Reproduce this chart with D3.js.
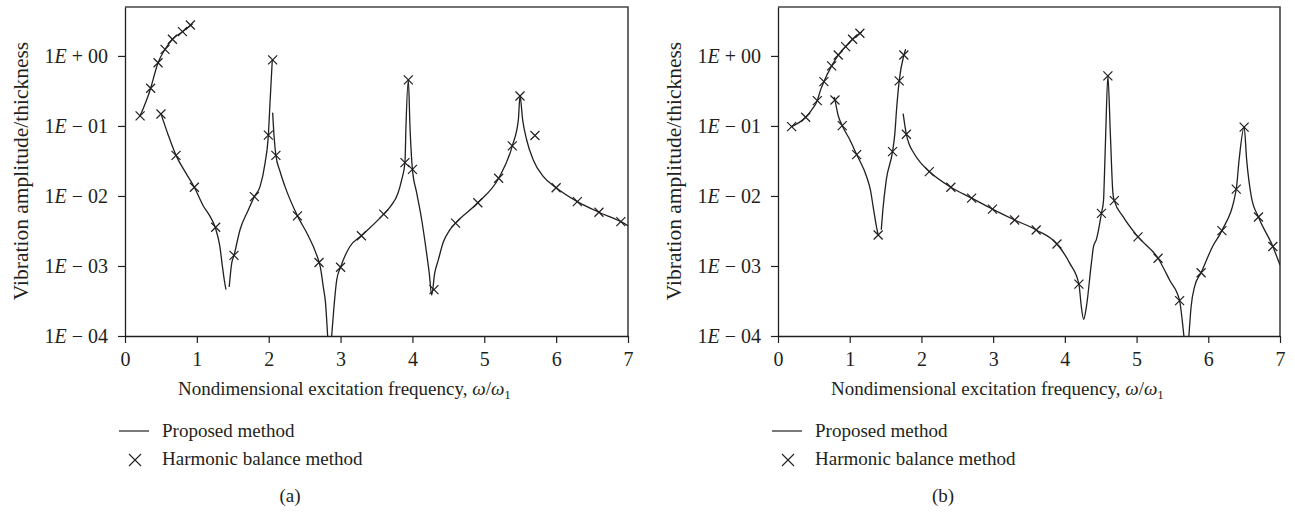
<!DOCTYPE html>
<html>
<head>
<meta charset="utf-8">
<script src="https://cdn.jsdelivr.net/npm/d3@7"></script>
<style>
body { margin: 0; background: #fff; }
text { font-family: "Liberation Serif", "Times New Roman", serif; fill: #231f20; }
</style>
</head>
<body>
<svg id="chart" width="1295" height="513"></svg>
<script>
// frequency ratio vs amplitude/thickness
var xTicks = [0, 1, 2, 3, 4, 5, 6, 7];
var yTicks = [1e-4, 1e-3, 1e-2, 1e-1, 1];
var yTickExp = ["\u2212 04", "\u2212 03", "\u2212 02", "\u2212 01", "+ 00"];
var legendLabels = ["Proposed method", "Harmonic balance method"];
var panelLabels = ["(a)", "(b)"];

// panel (a): proposed method, drawn as separate branches
var curveA1 = [[0.21,0.139],[0.265,0.19],[0.357,0.345],[0.37,0.385],[0.46,0.80],[0.557,1.24],[0.66,1.73],[0.80,2.22],[0.94,2.85]];
var curveA2 = [[0.50,0.15],[0.60,0.075],[0.71,0.038],[0.85,0.021],[0.965,0.0133],[1.09,0.0072],[1.18,0.0052],[1.262,0.0034],[1.32,0.0019],[1.355,0.001],[1.385,0.0006],[1.405,0.00046]];
var curveA3 = [[1.45,0.0005],[1.485,0.0011],[1.517,0.00142],[1.60,0.00327],[1.716,0.0063],[1.80,0.0098],[1.879,0.0136],[1.948,0.029],[1.995,0.074],[2.02,0.235],[2.05,0.88]];
var curveA4 = [[2.055,0.155],[2.075,0.07],[2.10,0.038],[2.16,0.022],[2.227,0.0136],[2.40,0.0052],[2.55,0.0027],[2.66,0.0015],[2.72,0.00095],[2.76,0.0005],[2.79,0.0003],[2.81,0.00015],[2.82,0.0001]];
var curveA5 = [[2.876,0.0001],[2.908,0.00026],[2.946,0.00063],[3.0,0.00096],[3.13,0.0019],[3.29,0.0027],[3.60,0.0055],[3.69,0.007],[3.80,0.011],[3.85,0.017],[3.896,0.030],[3.91,0.098],[3.943,0.454],[3.966,0.098],[4.0,0.024],[4.06,0.011],[4.13,0.0045],[4.198,0.0015],[4.234,0.00079],[4.268,0.000385],[4.31,0.00079],[4.36,0.00122],[4.43,0.0022],[4.513,0.0032],[4.60,0.0041],[4.91,0.008],[5.20,0.0179],[5.39,0.052],[5.474,0.122],[5.497,0.268],[5.534,0.122],[5.59,0.063],[5.68,0.033],[5.82,0.019],[6.0,0.0131],[6.295,0.0083],[6.596,0.00585],[6.90,0.0043],[7.0,0.00377]];
// panel (a): harmonic balance method
var markersA = [[0.21,0.139],[0.357,0.345],[0.46,0.80],[0.557,1.24],[0.66,1.73],[0.80,2.22],[0.91,2.77],
  [0.50,0.148],[0.71,0.038],[0.965,0.0133],[1.262,0.00357],[1.517,0.00142],[1.80,0.0098],[1.995,0.074],[2.055,0.88],
  [2.10,0.038],[2.40,0.0052],[2.70,0.00112],[3.0,0.00096],[3.29,0.0027],[3.60,0.0055],[3.896,0.030],[3.943,0.454],
  [4.0,0.024],[4.30,0.00046],[4.60,0.0041],[4.91,0.008],[5.20,0.0179],[5.39,0.052],[5.497,0.268],[5.705,0.073],
  [6.0,0.0131],[6.295,0.0083],[6.596,0.00585],[6.90,0.0043]];

// panel (b): proposed method
var curveB1 = [[0.19,0.098],[0.386,0.133],[0.47,0.17],[0.548,0.23],[0.595,0.33],[0.64,0.43],[0.748,0.72],[0.84,1.03],[0.943,1.36],[1.04,1.73],[1.142,2.11],[1.17,2.2]];
var curveB2 = [[0.784,0.26],[0.794,0.235],[0.84,0.14],[0.896,0.101],[1.003,0.063],[1.097,0.039],[1.235,0.019],[1.29,0.012],[1.327,0.007],[1.374,0.0036],[1.40,0.0027]];
var curveB3 = [[1.44,0.0033],[1.462,0.0063],[1.51,0.017],[1.597,0.043],[1.63,0.079],[1.653,0.17],[1.69,0.44],[1.755,1.03],[1.78,1.25]];
var curveB4 = [[1.745,0.15],[1.79,0.076],[1.90,0.04],[2.0,0.029],[2.11,0.0223],[2.41,0.0133],[2.70,0.0093],[2.99,0.0065],[3.30,0.00454],[3.60,0.00327],[3.89,0.00206],[4.067,0.0011],[4.196,0.00055],[4.23,0.00026],[4.262,0.000173],[4.30,0.00026],[4.37,0.0011],[4.40,0.0019],[4.44,0.0024],[4.51,0.00565],[4.54,0.0088],[4.55,0.017],[4.57,0.079],[4.60,0.52],[4.634,0.079],[4.67,0.011],[4.69,0.0086],[4.81,0.0051],[5.02,0.0026],[5.30,0.00129],[5.46,0.00063],[5.60,0.00032],[5.636,0.00017],[5.66,0.0001]];
var curveB5 = [[5.73,0.0001],[5.76,0.00026],[5.81,0.00051],[5.90,0.0008],[6.06,0.0019],[6.19,0.0032],[6.39,0.0125],[6.43,0.033],[6.50,0.096],[6.535,0.033],[6.60,0.0098],[6.70,0.005],[6.90,0.0019],[7.0,0.00103]];
// panel (b): harmonic balance method
var markersB = [[0.19,0.098],[0.386,0.133],[0.548,0.23],[0.64,0.43],[0.748,0.72],[0.84,1.03],[0.943,1.36],[1.04,1.73],[1.142,2.11],
  [0.794,0.235],[0.896,0.101],[1.097,0.039],[1.397,0.00277],[1.597,0.043],[1.69,0.44],[1.755,1.03],[1.79,0.076],
  [2.11,0.0223],[2.41,0.0133],[2.70,0.0093],[2.99,0.0065],[3.30,0.00454],[3.60,0.00327],[3.89,0.00206],[4.196,0.00055],
  [4.51,0.00565],[4.60,0.52],[4.69,0.0086],[5.02,0.0026],[5.30,0.00129],[5.60,0.00032],[5.90,0.0008],[6.19,0.0032],
  [6.39,0.0125],[6.50,0.096],[6.70,0.005],[6.90,0.0019]];

var svg = d3.select("#chart");
var plotTop = 7, plotBottom = 336;
var crossPath = "M-4.5,-4.5L4.5,4.5M-4.5,4.5L4.5,-4.5";

function drawPanel(left, right, segments, markers, label, id) {
  var x = d3.scaleLinear().domain([0, 7]).range([left, right]);
  var y = d3.scaleLog().domain([1e-4, 5]).range([plotBottom, plotTop]);
  var g = svg.append("g");

  g.append("clipPath").attr("id", "clip" + id)
    .append("rect").attr("x", left).attr("y", plotTop)
    .attr("width", right - left).attr("height", plotBottom - plotTop);

  // frame (top and right)
  g.append("path")
    .attr("d", "M" + left + "," + plotTop + "H" + right + "V" + plotBottom)
    .attr("fill", "none").attr("stroke", "#444").attr("stroke-width", 1.6);

  var xAxis = d3.axisBottom(x).tickValues(xTicks).tickSize(7).tickSizeOuter(0).tickFormat(d3.format("d"));
  var gx = g.append("g").attr("transform", "translate(0," + plotBottom + ")").call(xAxis);
  gx.select(".domain").attr("stroke", "#231f20").attr("stroke-width", 1.3);
  gx.selectAll(".tick line").attr("stroke", "#231f20").attr("stroke-width", 1.2);
  gx.selectAll(".tick text").attr("font-size", 20).attr("font-family", null).attr("y", 16).attr("dy", "0.71em");

  var yAxis = d3.axisLeft(y).tickValues(yTicks).tickSize(7).tickSizeOuter(0);
  var gy = g.append("g").attr("transform", "translate(" + left + ",0)").call(yAxis);
  gy.select(".domain").attr("stroke", "#231f20").attr("stroke-width", 1.3);
  gy.selectAll(".tick line").attr("stroke", "#231f20").attr("stroke-width", 1.2);
  gy.selectAll(".tick text").each(function(d, i) {
    var t = d3.select(this).text(null).attr("font-size", 20).attr("font-family", null).attr("x", -17);
    t.append("tspan").text("1");
    t.append("tspan").attr("font-style", "italic").text("E");
    t.append("tspan").text(" " + yTickExp[i]);
  });

  var line = d3.line().x(function(d) { return x(d[0]); }).y(function(d) { return y(d[1]); })
    .curve(d3.curveMonotoneX);
  g.append("g").attr("clip-path", "url(#clip" + id + ")")
    .selectAll("path").data(segments).enter().append("path")
    .attr("d", line).attr("fill", "none").attr("stroke", "#231f20").attr("stroke-width", 1.3);

  g.append("g").selectAll("path").data(markers).enter().append("path")
    .attr("transform", function(d) { return "translate(" + x(d[0]) + "," + y(d[1]) + ")"; })
    .attr("d", crossPath).attr("fill", "none").attr("stroke", "#231f20").attr("stroke-width", 1.2);

  // y title
  g.append("text")
    .attr("transform", "translate(" + (left - 97) + "," + 171 + ") rotate(-90)")
    .attr("text-anchor", "middle").attr("font-size", 21.5)
    .text("Vibration amplitude/thickness");

  // x title
  var xt = g.append("text").attr("x", left + 53).attr("y", 395).attr("font-size", 19);
  xt.append("tspan").text("Nondimensional excitation frequency, ");
  xt.append("tspan").attr("font-style", "italic").text("\u03c9");
  xt.append("tspan").text("/");
  xt.append("tspan").attr("font-style", "italic").text("\u03c9");
  xt.append("tspan").attr("font-size", 13).attr("dy", 4).text("1");

  // legend
  g.append("line").attr("x1", left - 6).attr("x2", left + 24).attr("y1", 431).attr("y2", 431)
    .attr("stroke", "#231f20").attr("stroke-width", 1.2);
  g.append("text").attr("x", left + 37).attr("y", 437).attr("font-size", 19).text(legendLabels[0]);
  g.append("path").attr("transform", "translate(" + (left + 10) + ",460)")
    .attr("d", "M-6,-6L6,6M-6,6L6,-6").attr("fill", "none").attr("stroke", "#231f20").attr("stroke-width", 1.1);
  g.append("text").attr("x", left + 37).attr("y", 465).attr("font-size", 19).text(legendLabels[1]);

  g.append("text").attr("x", left + 165).attr("y", 502).attr("text-anchor", "middle")
    .attr("font-size", 19).text(label);
}

drawPanel(125, 628, [curveA1, curveA2, curveA3, curveA4, curveA5], markersA, panelLabels[0], "a");
drawPanel(778, 1280, [curveB1, curveB2, curveB3, curveB4, curveB5], markersB, panelLabels[1], "b");
</script>
</body>
</html>
